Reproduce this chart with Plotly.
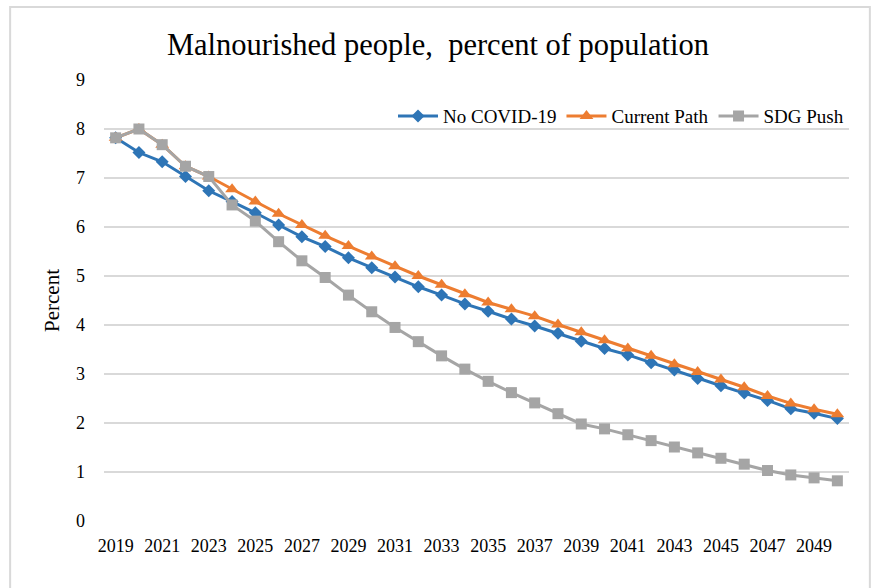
import plotly.graph_objects as go

years = list(range(2019, 2051))

no_covid = [7.82, 7.52, 7.33, 7.03, 6.74, 6.52, 6.29, 6.04, 5.80, 5.60, 5.37, 5.17,
            4.98, 4.78, 4.61, 4.43, 4.28, 4.12, 3.98, 3.83, 3.67, 3.52, 3.39, 3.23,
            3.08, 2.91, 2.76, 2.61, 2.46, 2.29, 2.20, 2.09]

current_path = [7.82, 8.00, 7.68, 7.24, 7.03, 6.77, 6.52, 6.27, 6.04, 5.82, 5.61, 5.40,
                5.20, 5.00, 4.82, 4.63, 4.46, 4.32, 4.18, 4.01, 3.85, 3.69, 3.52, 3.37,
                3.20, 3.04, 2.89, 2.73, 2.55, 2.40, 2.28, 2.18]

sdg_push = [7.82, 8.00, 7.68, 7.24, 7.03, 6.45, 6.12, 5.70, 5.31, 4.97, 4.61, 4.27,
            3.95, 3.66, 3.37, 3.10, 2.85, 2.62, 2.41, 2.19, 1.98, 1.88, 1.76, 1.64,
            1.51, 1.39, 1.28, 1.16, 1.03, 0.94, 0.88, 0.82]

year_ticks = list(range(2019, 2050, 2))
percent_ticks = list(range(0, 10))

serif = "Palatino Linotype, Book Antiqua, Palatino, Liberation Serif, serif"

fig = go.Figure()
fig.add_trace(go.Scatter(
    x=years, y=no_covid, name="No COVID-19", mode="lines+markers",
    line=dict(color="#2E75B6", width=3),
    marker=dict(symbol="diamond", size=10, color="#2E75B6"),
))
fig.add_trace(go.Scatter(
    x=years, y=current_path, name="Current Path", mode="lines+markers",
    line=dict(color="#ED7D31", width=3),
    marker=dict(symbol="triangle-up", size=12, color="#ED7D31"),
))
fig.add_trace(go.Scatter(
    x=years, y=sdg_push, name="SDG Push", mode="lines+markers",
    line=dict(color="#A5A5A5", width=3),
    marker=dict(symbol="square", size=11, color="#A5A5A5"),
))

# outer chart frame
fig.add_shape(type="rect", xref="paper", yref="paper",
              x0=-0.126, x1=1.028, y0=-0.2, y1=1.1655,
              line=dict(color="#d9d9d9", width=2), fillcolor="rgba(0,0,0,0)",
              layer="below")

fig.update_layout(
    width=876, height=588,
    margin=dict(l=104, r=27, t=80, b=67),
    paper_bgcolor="white", plot_bgcolor="white",
    font=dict(family=serif, color="#000000", size=18),
    title=dict(text="Malnourished people,  percent of population",
               x=0.5, xanchor="center", y=0.925, yanchor="middle",
               font=dict(family=serif, size=30.5, color="#000000")),
    showlegend=True,
    legend=dict(orientation="h", x=1.0, xanchor="right", y=0.918, yanchor="middle",
                bgcolor="rgba(0,0,0,0)", font=dict(family=serif, size=19),
                itemwidth=40, tracegroupgap=0),
    xaxis=dict(range=[2018.5, 2050.5], tickvals=year_ticks,
               ticktext=[str(y) for y in year_ticks],
               showgrid=False, zeroline=False, showline=False, ticks="",
               ticklabelstandoff=12,
               tickfont=dict(size=18, family=serif)),
    yaxis=dict(range=[0, 9], tickvals=percent_ticks, showgrid=True,
               gridcolor="#d9d9d9", gridwidth=1.5, zeroline=False, showline=False,
               ticks="", ticklabelstandoff=18,
               title=dict(text="Percent", font=dict(size=21, family=serif), standoff=10),
               tickfont=dict(size=18, family=serif)),
)

fig.write_html("out.html")
